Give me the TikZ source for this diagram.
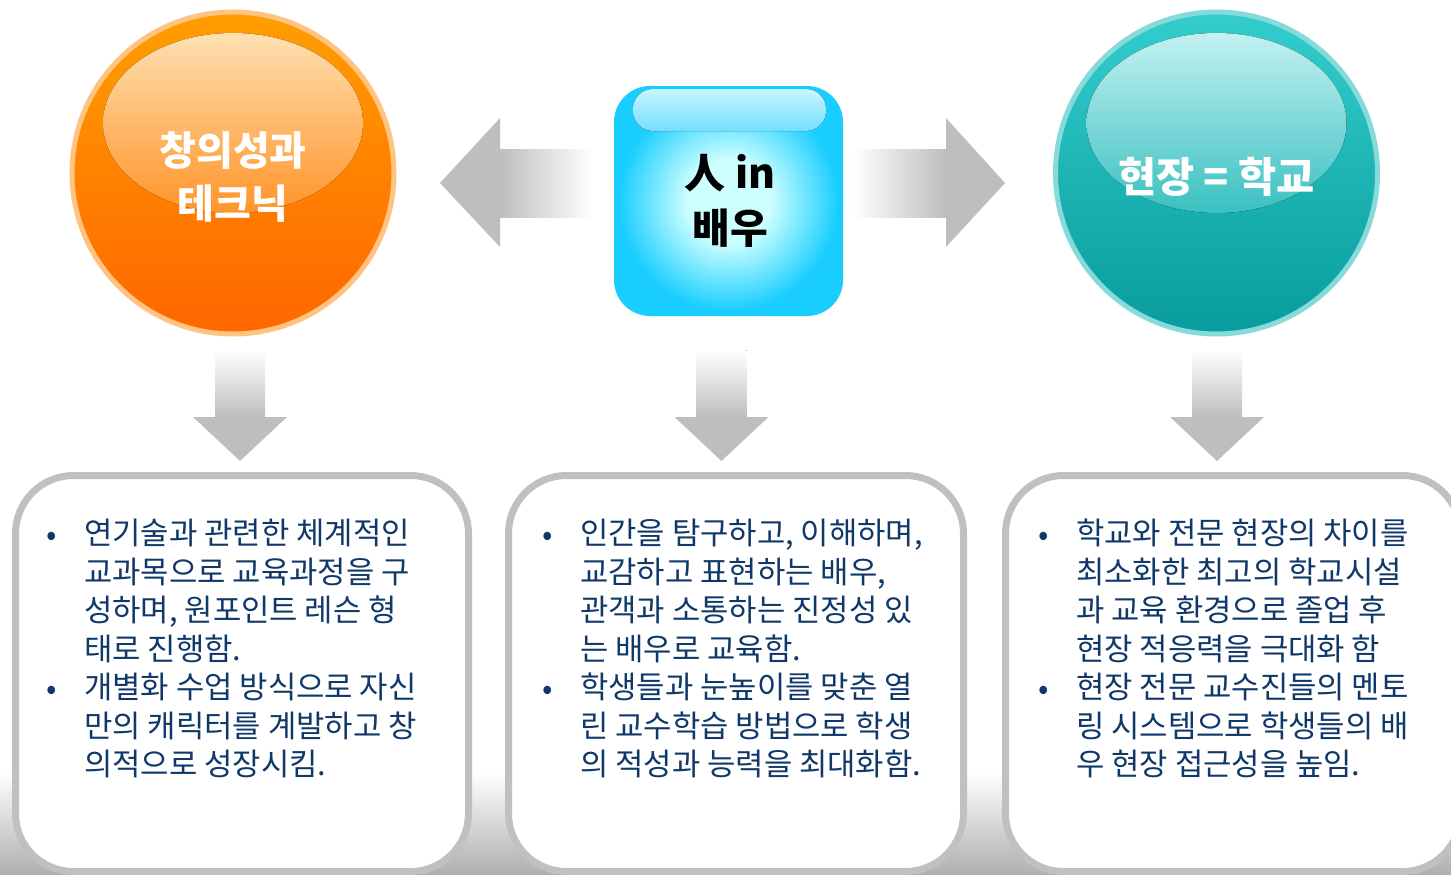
\documentclass[tikz,border=0pt]{standalone}
\usepackage{fontspec}
\setmainfont{Noto Sans CJK KR}
\usetikzlibrary{shadings}
\definecolor{orTop}{RGB}{255,158,0}
\definecolor{orBot}{RGB}{255,102,0}
\definecolor{orRim}{RGB}{255,196,130}
\definecolor{orHiTop}{RGB}{255,224,178}
\definecolor{orHiBot}{RGB}{255,148,40}
\definecolor{tlTop}{RGB}{52,205,205}
\definecolor{tlBot}{RGB}{8,156,156}
\definecolor{tlRim}{RGB}{135,218,218}
\definecolor{tlHiTop}{RGB}{195,241,241}
\definecolor{tlHiBot}{RGB}{58,192,192}
\definecolor{cyEdge}{RGB}{25,205,255}
\definecolor{cyMid}{RGB}{205,255,255}
\definecolor{cyHiTop}{RGB}{200,246,255}
\definecolor{cyHiBot}{RGB}{115,222,255}
\definecolor{arr}{RGB}{190,190,190}
\definecolor{boxline}{RGB}{192,192,192}
\definecolor{shadowgrey}{RGB}{175,175,175}
\definecolor{navy}{RGB}{16,56,105}
\pgfdeclareradialshading{glowshade}{\pgfpoint{0bp}{0bp}}{color(0bp)=(cyMid); color(9bp)=(cyMid); color(24bp)=(cyEdge); color(50bp)=(cyEdge)}
\newcommand\bodyfont{\fontsize{30.8}{38.5}\selectfont}
\newcommand\orbfont{\bfseries\fontsize{40}{53}\selectfont}
\newcommand\orbRfont{\bfseries\fontsize{41.5}{53}\selectfont}
\newcommand\cenfont{\bfseries\fontsize{41}{55}\selectfont}
\tikzset{
  orb/.style={circle, minimum size=322, line width=5, inner sep=0},
  orbtext/.style={text=white, align=center, inner sep=0},
  grey arrow/.style={fill=arr, draw=none},
  panel/.style={draw=boxline, line width=7, rounded corners=58, fill=white},
  panelshadow/.style={top color=white, bottom color=shadowgrey, draw=none},
  bodytext/.style={anchor=north west, align=left, inner sep=0, text=navy, font=\bodyfont},
  bulletmark/.style={anchor=base, inner sep=0, text=navy, font=\bodyfont}
}
\begin{document}
\begin{tikzpicture}[x=1pt, y=-1pt]
\useasboundingbox (0,0) rectangle (1451,875);

% ---------- top row: orbs and centre box ----------
\node[orb, draw=orRim, top color=orTop, bottom color=orBot] (orbL) at (233,173) {};
\fill[top color=orHiTop, bottom color=orHiBot] (233,123) ellipse [x radius=130, y radius=90];
\node[orbtext, font=\orbfont] (orbLtext) at (233,177) {창의성과\\테크닉};

\node[orb, draw=tlRim, top color=tlTop, bottom color=tlBot] (orbR) at (1216.5,173) {};
\fill[top color=tlHiTop, bottom color=tlHiBot] (1216.5,123) ellipse [x radius=130, y radius=90];
\node[orbtext, font=\orbRfont] (orbRtext) at (1216.5,177) {현장 = 학교};

\node[rounded corners=36, minimum width=229, minimum height=230, inner sep=0,
      shading=glowshade] (mid) at (728.5,201) {};
\fill[top color=cyHiTop, bottom color=cyHiBot, rounded corners=20] (633,89) rectangle (826,131);
\node[font=\cenfont, align=center, inner sep=0] (midtext) at (730,201) {人 in\\배우};

% ---------- side arrows ----------
\fill[left color=arr, right color=white] (500,149) rectangle (592,217);
\fill[grey arrow] (500,118) -- (440,183) -- (500,247) -- cycle;
\fill[left color=white, right color=arr] (853,149) rectangle (946,217);
\fill[grey arrow] (946,118) -- (1005,183) -- (946,247) -- cycle;

% ---------- down arrows ----------
\foreach \cx in {240,721.5,1217}{
  \fill[top color=white, bottom color=arr] (\cx-25,350) rectangle (\cx+25,417.5);
  \fill[grey arrow] (\cx-47,417) -- (\cx+47,417) -- (\cx,461) -- cycle;
}

% ---------- panel shadows ----------
\fill[panelshadow] (-5,772) rectangle (495,875);
\fill[panelshadow] (487,772) rectangle (992,875);
\fill[panelshadow] (982,772) rectangle (1451,875);

% ---------- panels ----------
\node[panel, minimum width=453, minimum height=396, inner sep=0] (boxL) at (242,673.5) {};
\node[panel, minimum width=455, minimum height=396, inner sep=0] (boxM) at (736,673.5) {};
\node[panel, minimum width=455, minimum height=396, inner sep=0] (boxR) at (1233,673.5) {};

% ---------- panel texts ----------
\node[bulletmark] (bL1) at (52,545) {•};
\node[bodytext] (tL1) at (84,519) {연기술과 관련한 체계적인\\교과목으로 교육과정을 구\\성하며, 원포인트 레슨 형\\태로 진행함.};
\node[bulletmark] (bL2) at (52,699) {•};
\node[bodytext] (tL2) at (84,673) {개별화 수업 방식으로 자신\\만의 캐릭터를 계발하고 창\\의적으로 성장시킴.};

\node[bulletmark] (bM1) at (548,545) {•};
\node[bodytext] (tM1) at (580,519) {인간을 탐구하고, 이해하며,\\교감하고 표현하는 배우,\\관객과 소통하는 진정성 있\\는 배우로 교육함.};
\node[bulletmark] (bM2) at (548,699) {•};
\node[bodytext] (tM2) at (580,673) {학생들과 눈높이를 맞춘 열\\린 교수학습 방법으로 학생\\의 적성과 능력을 최대화함.};

\node[bulletmark] (bR1) at (1044,545) {•};
\node[bodytext] (tR1) at (1076,519) {학교와 전문 현장의 차이를\\최소화한 최고의 학교시설\\과 교육 환경으로 졸업 후\\현장 적응력을 극대화 함};
\node[bulletmark] (bR2) at (1044,699) {•};
\node[bodytext] (tR2) at (1076,673) {현장 전문 교수진들의 멘토\\링 시스템으로 학생들의 배\\우 현장 접근성을 높임.};
\end{tikzpicture}
\end{document}
